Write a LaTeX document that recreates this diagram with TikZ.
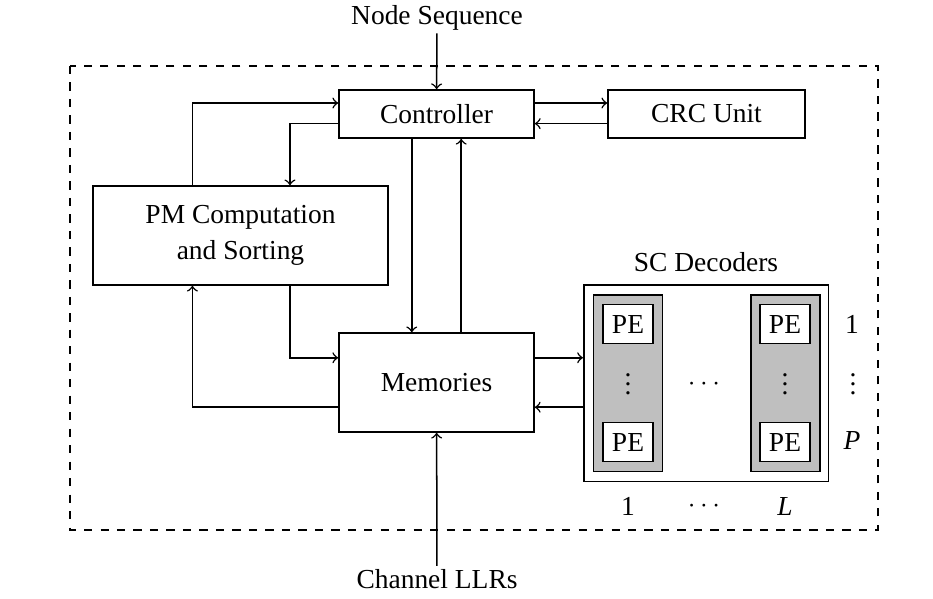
\documentclass[tikz,border=0pt]{standalone}
\usepackage{fontspec}
\setmainfont{Liberation Serif}
\newcommand{\vdts}{\vbox{\baselineskip3.3pt\lineskiplimit0pt\hbox{.}\hbox{.}\hbox{.}}}
\begin{document}
\begin{tikzpicture}[x=0.364pt, y=-0.364pt, line width=0.55pt,
		block/.style = {draw, minimum width=71pt, minimum height=17.5pt, inner sep=0pt},
		pe/.style = {draw, fill=white, minimum width=18.2pt, minimum height=14.2pt, inner sep=0pt},
		column/.style = {draw, fill=black!25, minimum width=25.1pt, minimum height=64.3pt, inner sep=0pt},
		lbl/.style = {inner sep=1pt}]
		\useasboundingbox (0,0) rectangle (933,598);
		\draw[dashed] (70,66) rectangle (878,530);
		\node[lbl] (seq) at (437,17.5) {Node Sequence};
		\node[lbl] (llr) at (437,579) {Channel LLRs};
		\node[block] (ctrl) at (436.5,114) {Controller};
		\node[block, minimum width=71.7pt] (crc) at (706.5,114) {CRC Unit};
		\node[block, minimum width=107.4pt, minimum height=36pt, align=center] (pm) at (240.5,235.5) {PM Computation\\[1pt]and Sorting};
		\node[block, minimum height=36pt] (mem) at (436.5,382.5) {Memories};
		\node[draw, minimum width=89pt, minimum height=71.5pt] (sc) at (706,383.3) {};
		\node[lbl] (sclbl) at (706,262) {SC Decoders};
		\node[column] (col1) at (628,383.4) {};
		\node[column] (col2) at (785.3,383.4) {};
		\node[pe] (pe11) at (628,324) {PE};
		\node[pe] (pe1p) at (628,442) {PE};
		\node[pe] (pel1) at (785,324) {PE};
		\node[pe] (pelp) at (785,442) {PE};
		\node[lbl] (vd1) at (628,384) {\vdts};
		\node[lbl] (vd2) at (785,384) {\vdts};
		\node[lbl] (hd) at (704,384) {$\cdots$};
		\node[lbl, anchor=base] (row1) at (852,333) {1};
		\node[lbl] (rowd) at (853,384) {\vdts};
		\node[lbl, anchor=base] (rowp) at (852,449) {\textit{P}};
		\node[lbl, anchor=base] (cl1) at (628,515) {1};
		\node[lbl] (cld) at (704,506) {$\cdots$};
		\node[lbl, anchor=base] (cll) at (785,515) {\textit{L}};
		\draw[->] (seq) -- (ctrl);
		\draw[->] (llr) -- (mem);
		\draw[->] ([yshift=4pt]ctrl.east) -- ([yshift=4pt]ctrl.east -| crc.west);
		\draw[->] ([yshift=-3.5pt]crc.west) -- ([yshift=-3.5pt]crc.west -| ctrl.east);
		\draw[->] ([xshift=-17.5pt]pm.north) |- ([yshift=4pt]ctrl.west);
		\draw[->] ([yshift=-3.5pt]ctrl.west) -| ([xshift=18pt]pm.north);
		\draw[->] ([xshift=-9pt]ctrl.south) -- ([xshift=-9pt]mem.north);
		\draw[->] ([xshift=9pt]mem.north) -- ([xshift=9pt]ctrl.south);
		\draw[->] ([xshift=18pt]pm.south) |- ([yshift=9pt]mem.west);
		\draw[->] ([yshift=-9pt]mem.west) -| ([xshift=-17.5pt]pm.south);
		\draw[->] ([yshift=9pt]mem.east) -- ([yshift=9pt]mem.east -| sc.west);
		\draw[->] ([yshift=-9pt]mem.east -| sc.west) -- ([yshift=-9pt]mem.east);
	\end{tikzpicture}
\end{document}
